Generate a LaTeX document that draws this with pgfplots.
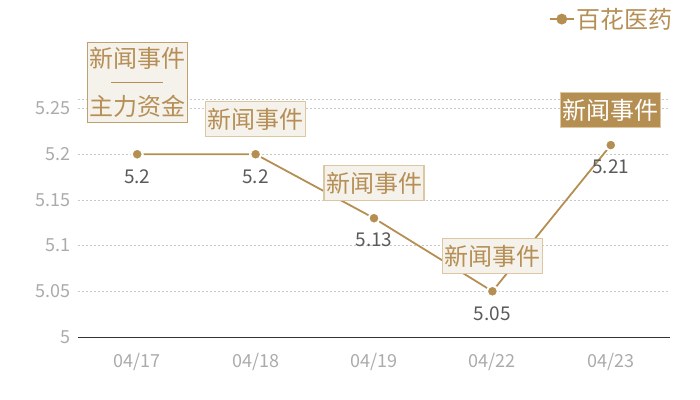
\documentclass[border=0pt]{standalone}
\usepackage{pgfplots}
\pgfplotsset{compat=1.18}
\usepackage{fontspec}
\setmainfont{Noto Sans CJK SC}

\definecolor{gold}{HTML}{B58F52}
\definecolor{goldtext}{HTML}{B58F55}
\definecolor{boxfill}{HTML}{F5F1EB}
\definecolor{boxline}{HTML}{DCC7A2}
\definecolor{ticktext}{HTML}{ABABAB}
\definecolor{labeltext}{HTML}{5A5A5A}
\definecolor{gridc}{HTML}{C8C8C8}

\newcommand\bigfont{\fontsize{24bp}{24bp}\selectfont}

\tikzset{
  evbox/.style={draw=boxline, line width=1.2bp, fill=boxfill, text=goldtext,
    font=\bigfont, inner xsep=1bp, inner ysep=0bp, minimum width=100bp,
    minimum height=35bp, anchor=south},
}

\begin{document}
\begin{tikzpicture}
\useasboundingbox (0,0) rectangle (700bp,400bp);
\begin{axis}[
    at={(78bp,63bp)}, anchor=south west,
    scale only axis, width=592bp, height=237.6bp,
    xmin=-0.5, xmax=4.5, ymin=5, ymax=5.26,
    axis x line*=bottom, axis y line*=left,
    y axis line style={draw=none},
    x axis line style={draw=black!80, line width=1bp, -},
    major tick length=0pt,
    xtick={0,1,2,3,4},
    xticklabels={04/17,04/18,04/19,04/22,04/23},
    ytick={5,5.05,5.1,5.15,5.2,5.25},
    yticklabels={5,5.05,5.1,5.15,5.2,5.25},
    extra y ticks={5.26}, extra y tick labels={},
    extra y tick style={grid=major},
    ymajorgrids,
    grid style={gridc, line width=0.8bp, dash pattern=on 2bp off 2bp},
    tick label style={font=\fontsize{18bp}{20bp}\selectfont, text=ticktext},
    xticklabel style={yshift=-13bp},
    yticklabel style={xshift=-4bp},
    /pgf/number format/assume math mode=true,
    clip=false,
    legend style={at={(1.008,1.338)}, anchor=east, draw=none, fill=none,
      font=\bigfont, text=goldtext, inner sep=0pt},
    legend image code/.code={
      \draw[gold, line width=1.5bp] (0bp,0bp) -- (24bp,0bp);
      \fill[gold] (12bp,0bp) circle (4.5bp);
    },
]
\addplot[gold, line width=1.8bp, mark=*, mark size=5.5bp,
    mark options={fill=gold, draw=white, line width=2bp},
    nodes near coords, point meta=explicit symbolic,
    nodes near coords style={anchor=center, yshift=-22bp,
      font=\fontsize{19bp}{20bp}\selectfont, text=labeltext}]
  table[meta=lab] {
x y lab
0 5.20 5.2
1 5.20 5.2
2 5.13 5.13
3 5.05 5.05
4 5.21 5.21
};
\addlegendentry{百花医药}

\node[evbox, yshift=31bp, minimum height=80bp, align=center, draw=gold!85]
  at (axis cs:0,5.2)
  {新闻事件\\[0bp]\rule[0.35em]{52bp}{1.4bp}\\[0bp]主力资金};
\node[evbox, yshift=17bp] at (axis cs:1,5.2) {新闻事件};
\node[evbox, yshift=17bp] at (axis cs:2,5.13) {新闻事件};
\node[evbox, yshift=17bp] at (axis cs:3,5.05) {新闻事件};
\node[evbox, yshift=17bp, fill=gold, draw=boxline, text=white]
  at (axis cs:4,5.21) {新闻事件};
\end{axis}
\end{tikzpicture}
\end{document}
